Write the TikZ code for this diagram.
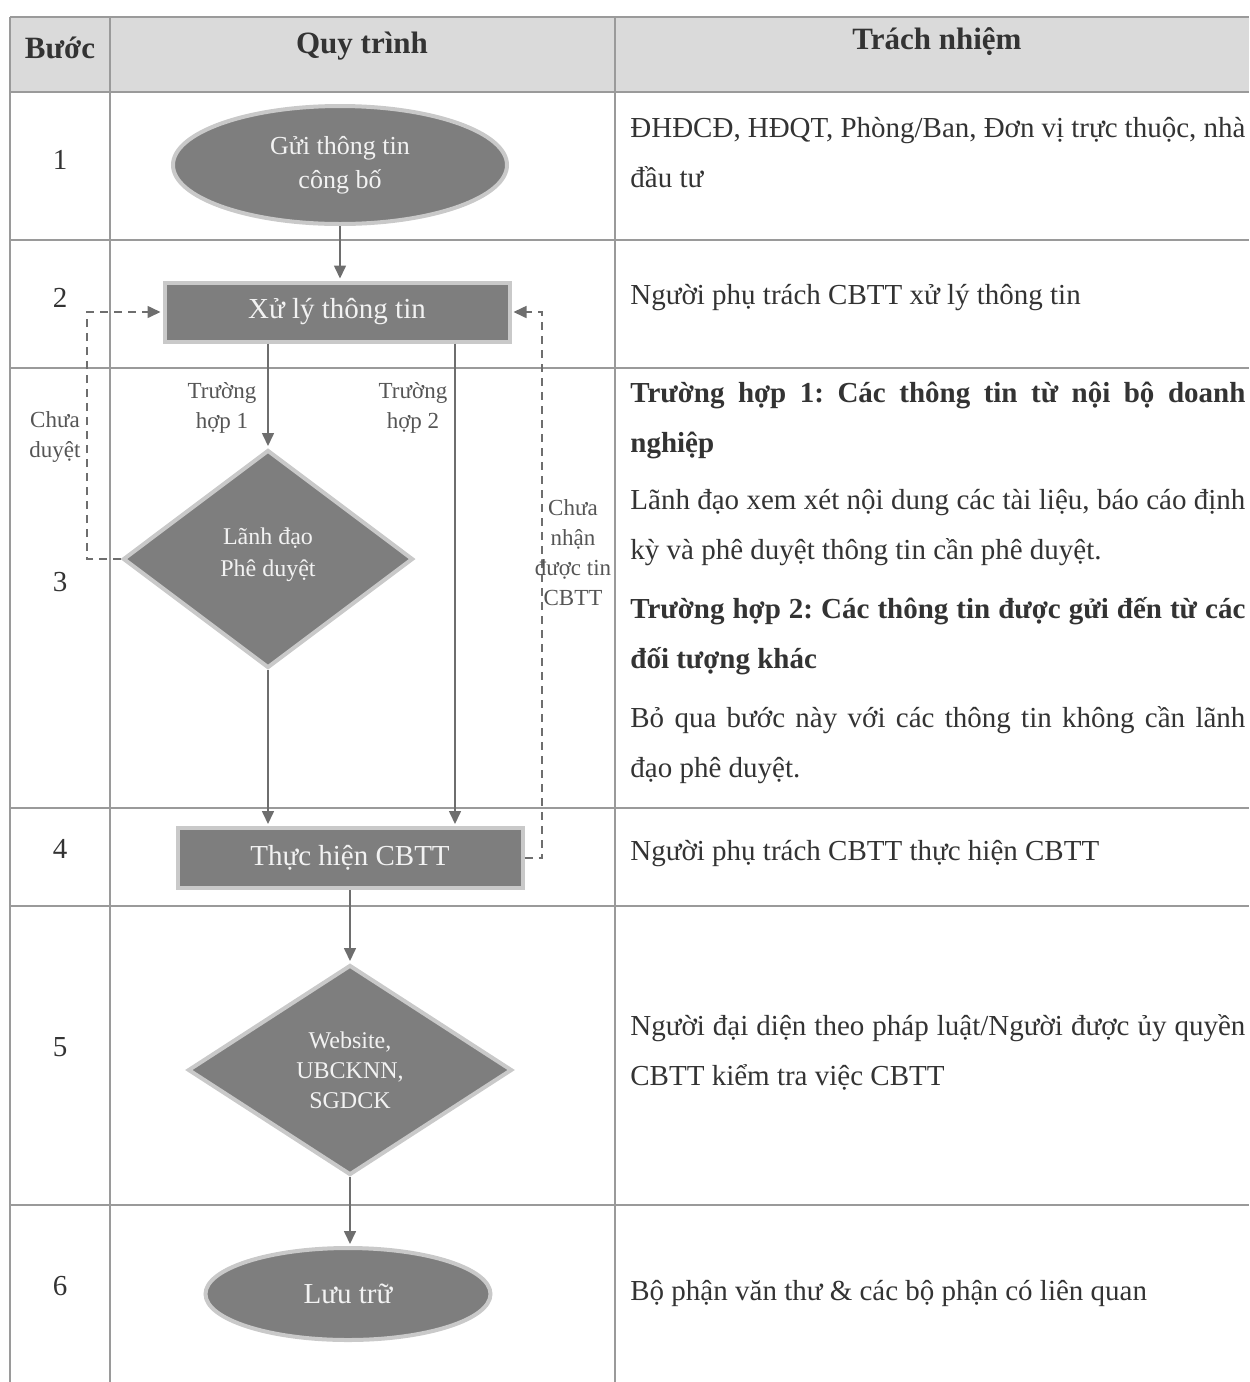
\documentclass[tikz,border=0pt]{standalone}
\usepackage{fontspec}
\setmainfont{Liberation Serif}
\usetikzlibrary{arrows.meta,shapes.geometric}
\definecolor{shapegray}{HTML}{7E7E7E}
\definecolor{glowgray}{HTML}{C9C9C9}
\definecolor{linegray}{HTML}{9A9A9A}
\definecolor{textgray}{HTML}{333333}
\definecolor{headgray}{HTML}{DADADA}
\definecolor{arrowgray}{HTML}{6E6E6E}
\definecolor{labelgray}{HTML}{555555}
\definecolor{shapetext}{HTML}{F2F2F2}
\frenchspacing
\begin{document}
\begin{tikzpicture}[x=0.5pt,y=-0.5pt,
  proc/.style={draw=glowgray, line width=2pt, fill=shapegray, text=shapetext, inner sep=0pt, align=center},
  term/.style={proc, ellipse},
  procbox/.style={proc, rectangle, font=\fontsize{14.5}{17}\selectfont},
  decision/.style={proc, diamond},
  flow/.style={draw=arrowgray, line width=0.8pt, -{Triangle[length=6.5pt,width=6pt]}, shorten >=1pt},
  loopback/.style={flow, dash pattern=on 4pt off 3pt},
  grid/.style={draw=linegray, line width=0.6pt},
  stepnum/.style={text=textgray, inner sep=0pt, font=\fontsize{14.5}{17}\selectfont},
  resp/.style={text=textgray, anchor=base west, text width=307.5pt, align=justify, inner sep=0pt, font=\frenchspacing\fontsize{14.5}{25}\selectfont},
  head/.style={text=textgray, inner sep=0pt, font=\bfseries\fontsize{15.5}{18}\selectfont},
  lbl/.style={text=labelgray, align=center, inner sep=0pt, font=\fontsize{11.5}{15}\selectfont}
]
\useasboundingbox (0,0) rectangle (1249,1382);
% table
\fill[headgray] (10,17) rectangle (1249,92);
\foreach \yy in {17,92,240,368,808,906,1205} \draw[grid] (10,\yy) -- (1249,\yy);
\foreach \xx in {10,110,615} \draw[grid] (\xx,17) -- (\xx,1382);
% header
\node[head] (hb) at (60,48) {Bước};
\node[head] (hq) at (362,46) {Quy trình};
\node[head] (ht) at (937,42) {Trách nhiệm};
% step numbers
\node[stepnum] (s1) at (60,160) {1};
\node[stepnum] (s2) at (60,298) {2};
\node[stepnum] (s3) at (60,582) {3};
\node[stepnum] (s4) at (60,849) {4};
\node[stepnum] (s5) at (60,1047) {5};
\node[stepnum] (s6) at (60,1286) {6};
% flow nodes
\node[term, minimum width=167pt, minimum height=59pt, font=\fontsize{13}{17}\selectfont] (e1) at (340,165) {Gửi thông tin\\công bố};
\node[procbox, minimum width=172.5pt, minimum height=29.5pt] (xuly) at (337,312) {Xử lý thông tin};
\node[decision, minimum width=145pt, minimum height=109pt, font=\fontsize{12}{16}\selectfont] (d1) at (268,559) {Lãnh đạo\\Phê duyệt\\[-9pt]};
\node[procbox, minimum width=172.5pt, minimum height=30pt] (thuchien) at (350,858) {Thực hiện CBTT};
\node[decision, minimum width=162pt, minimum height=105pt, font=\fontsize{12}{15}\selectfont] (d2) at (350,1070) {Website,\\UBCKNN,\\SGDCK};
\node[term, minimum width=142.5pt, minimum height=46pt, font=\fontsize{14.5}{17}\selectfont] (e2) at (348,1294) {Lưu trữ};
% helper coordinates
\coordinate (t2) at (455,0);
\coordinate (cl) at (87,0);
\coordinate (cr) at (542,0);
% connectors
\draw[flow] (e1.south) -- (e1.south |- xuly.north);
\draw[flow] (xuly.south -| d1.north) -- (d1.north);
\draw[flow] (xuly.south -| t2) -- (thuchien.north -| t2);
\draw[flow] (d1.south) -- (thuchien.north -| d1.south);
\draw[loopback] (d1.west) -- (d1.west -| cl) -- (xuly.west -| cl) -- (xuly.west);
\draw[loopback] (thuchien.east) -- (thuchien.east -| cr) -- (xuly.east -| cr) -- (xuly.east);
\draw[flow] (thuchien.south) -- (thuchien.south |- d2.north);
\draw[flow] (d2.south) -- (d2.south |- e2.north);
% connector labels
\node[lbl] (l1) at (222,408) {Trường\\hợp 1};
\node[lbl] (l2) at (413,408) {Trường\\hợp 2};
\node[lbl] (l3) at (55,437) {Chưa\\duyệt};
\node[lbl] (l4) at (573,553) {Chưa\\nhận\\được tin\\CBTT};
% responsibilities
\node[resp] (r1) at (630,137) {ĐHĐCĐ, HĐQT, Phòng/Ban, Đơn vị trực thuộc, nhà\linebreak đầu tư};
\node[resp] (r2) at (630,304) {Người phụ trách CBTT xử lý thông tin};
\node[resp, font=\frenchspacing\bfseries\fontsize{14.5}{25}\selectfont] (r3a) at (630,402) {Trường hợp 1: Các thông tin từ nội bộ doanh\linebreak nghiệp};
\node[resp] (r3b) at (630,509) {Lãnh đạo xem xét nội dung các tài liệu, báo cáo định\linebreak kỳ và phê duyệt thông tin cần phê duyệt.};
\node[resp, font=\frenchspacing\bfseries\fontsize{14.5}{25}\selectfont] (r3c) at (630,618) {Trường hợp 2: Các thông tin được gửi đến từ các\linebreak đối tượng khác};
\node[resp] (r3d) at (630,727) {Bỏ qua bước này với các thông tin không cần lãnh\linebreak đạo phê duyệt.};
\node[resp] (r4) at (630,860) {Người phụ trách CBTT thực hiện CBTT};
\node[resp] (r5) at (630,1035) {Người đại diện theo pháp luật/Người được ủy quyền\linebreak CBTT kiểm tra việc CBTT};
\node[resp] (r6) at (630,1300) {Bộ phận văn thư \& các bộ phận có liên quan};
\end{tikzpicture}
\end{document}
